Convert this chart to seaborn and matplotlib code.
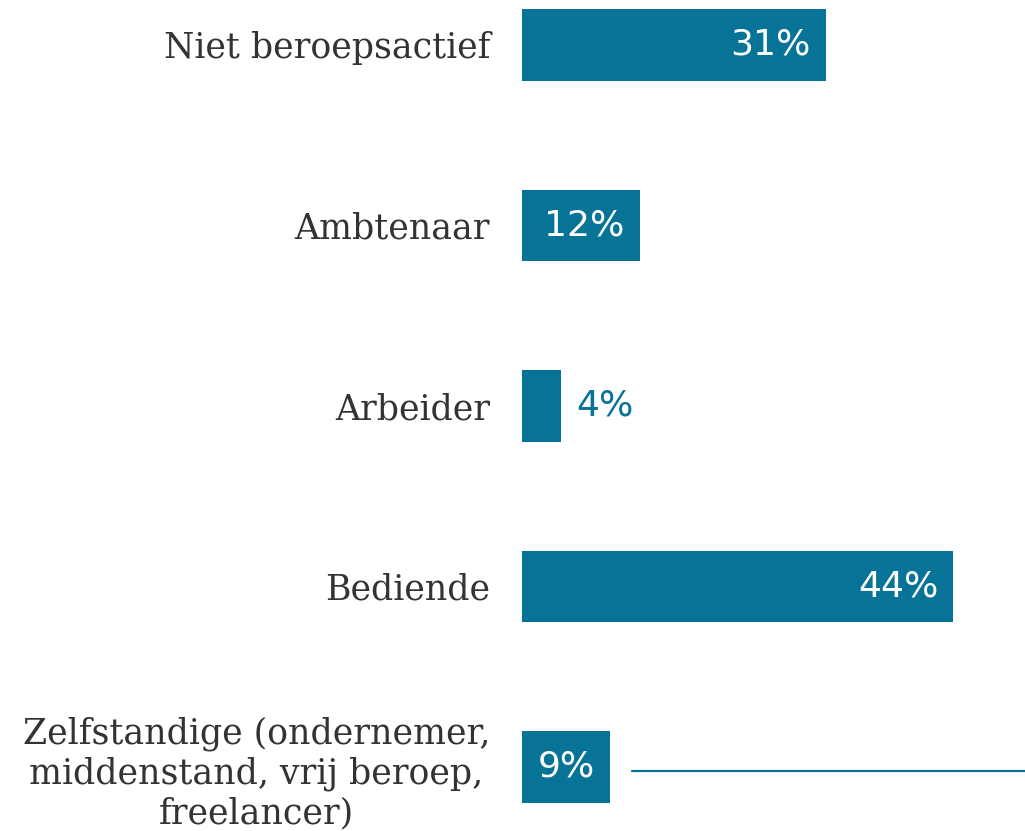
import matplotlib
matplotlib.use("Agg")
import matplotlib.pyplot as plt
import seaborn as sns
import pandas as pd

categories = [
    "Niet beroepsactief",
    "Ambtenaar",
    "Arbeider",
    "Bediende",
    "Zelfstandige (ondernemer,\nmiddenstand, vrij beroep,\nfreelancer)",
]
values = [31, 12, 4, 44, 9]
value_labels = ["31%", "12%", "4%", "44%", "9%"]

TEAL = "#077396"
GREY = "#333333"

sns.set_theme(style="white")
plt.rcParams["font.family"] = ["DejaVu Sans"]

df = pd.DataFrame({"cat": categories, "val": values})

fig = plt.figure(figsize=(10.25, 8.31), dpi=100)
ax = fig.add_axes([522 / 1025, 0, (1025 - 522) / 1025, 1])

sns.barplot(data=df, x="val", y="cat", orient="h", color=TEAL, saturation=1,
            width=0.395, linewidth=0, ax=ax)

ax.set_xlim(0, 51.3)
ax.set_ylim(4.355, -0.249)
ax.set_xlabel("")
ax.set_ylabel("")
ax.set_xticks([])
for s in ax.spines.values():
    s.set_visible(False)

ax.tick_params(axis="y", length=0, pad=23)
for lbl in ax.get_yticklabels():
    lbl.set_fontfamily("DejaVu Serif")
    lbl.set_fontsize(25)
    lbl.set_color(GREY)
    lbl.set_multialignment("center")
    lbl.set_linespacing(1.2)

for i, (v, t) in enumerate(zip(values, value_labels)):
    if v >= 8:
        ax.annotate(t, xy=(v, i), xytext=(-11, 0), textcoords="offset points",
                    ha="right", va="center", color="white", fontsize=26)
    else:
        ax.annotate(t, xy=(v, i), xytext=(11, 0), textcoords="offset points",
                    ha="left", va="center", color=TEAL, fontsize=26)

ax.axhline(4.02, xmin=(632 - 522) / (1025 - 522), xmax=1, color=TEAL, lw=1.6)

fig.savefig("out.png", dpi=100)
